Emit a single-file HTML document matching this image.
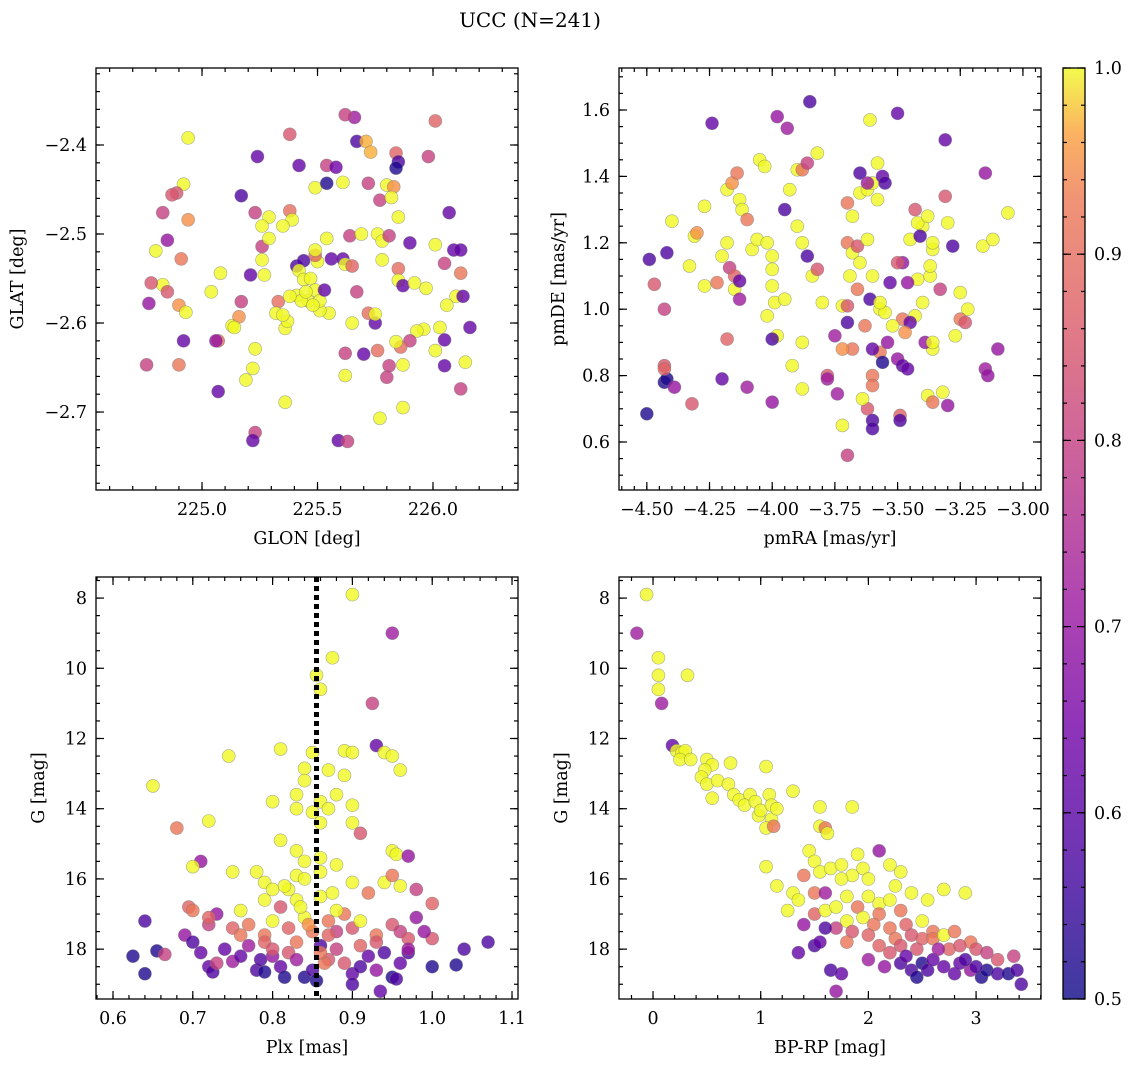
<!DOCTYPE html>
<html><head><meta charset="utf-8"><style>
html,body{margin:0;padding:0;background:#fff;}
svg{display:block;font-family:"DejaVu Serif","Liberation Serif",serif;}
</style></head><body>
<svg id="fig" width="1136" height="1067" viewBox="0 0 1136 1067" xmlns="http://www.w3.org/2000/svg">
<defs>
<linearGradient id="plasma" x1="0" y1="1" x2="0" y2="0">
<stop offset="0" stop-color="#0d0887"/><stop offset="0.14" stop-color="#46039f"/><stop offset="0.29" stop-color="#7201a8"/><stop offset="0.43" stop-color="#9c179e"/><stop offset="0.57" stop-color="#bd3786"/><stop offset="0.71" stop-color="#d8576b"/><stop offset="0.86" stop-color="#ed7953"/><stop offset="0.93" stop-color="#fb9f3a"/><stop offset="1" stop-color="#f0f921"/>
</linearGradient>
</defs>
<text x="530" y="27" font-size="20" text-anchor="middle">UCC (N=241)</text>
</svg>
<script>
// ---- Panel 1: GLON vs GLAT ----
const p1 = [[224.94,-2.392,1],[225.66,-2.369,.72],[225.62,-2.366,.8],[226.01,-2.373,.88],[225.38,-2.388,.85],[225.67,-2.396,.58],[225.71,-2.396,.97],[225.24,-2.413,.62],[225.42,-2.423,.62],[225.54,-2.423,.8],[225.58,-2.425,.64],[225.73,-2.408,.97],[225.84,-2.409,.88],[225.85,-2.419,.58],[225.84,-2.426,.52],[225.98,-2.413,.8],
[224.92,-2.444,1],[224.89,-2.454,.85],[224.87,-2.456,.85],[224.83,-2.476,.8],[224.94,-2.484,.95],[225.17,-2.457,.58],[225.23,-2.476,.8],[225.29,-2.481,1],[225.38,-2.474,.9],[225.39,-2.484,1],[225.49,-2.448,1],[225.54,-2.443,.52],[225.61,-2.442,1],[225.72,-2.443,.8],[225.80,-2.445,1],[225.83,-2.447,.95],[225.77,-2.462,.8],[225.82,-2.459,1],[225.85,-2.481,1],[226.07,-2.476,.62],
[224.85,-2.507,.7],[224.80,-2.519,1],[224.91,-2.528,.92],[224.83,-2.557,1],[224.85,-2.565,.85],[224.78,-2.555,.85],[224.77,-2.578,.7],[224.90,-2.580,.95],[224.93,-2.588,1],[224.76,-2.647,.8],[224.92,-2.620,.62],[224.90,-2.647,.92],[225.04,-2.565,1],[225.08,-2.544,1],[225.13,-2.603,1],[225.16,-2.593,.95],[225.14,-2.605,1],[225.07,-2.620,.9],[225.06,-2.620,.7],[225.17,-2.576,.8],[225.21,-2.546,.62],[225.27,-2.546,1],[225.26,-2.514,.8],[225.26,-2.491,1],[225.29,-2.505,1],[225.35,-2.491,1],[225.33,-2.576,.9],[225.32,-2.589,1],[225.26,-2.529,1],[225.36,-2.606,1],[225.37,-2.598,1],[225.41,-2.536,.58],[225.44,-2.530,.58],[225.42,-2.541,1],[225.44,-2.551,1],[225.47,-2.550,1],[225.50,-2.531,1],[225.49,-2.524,.88],[225.49,-2.518,1],[225.54,-2.505,1],[225.56,-2.528,.62],[225.61,-2.528,.62],[225.62,-2.534,1],[225.64,-2.502,.8],[225.65,-2.536,.88],[225.69,-2.500,1],[225.76,-2.500,1],[225.78,-2.508,1],[225.81,-2.502,.8],[225.90,-2.510,.62],[225.78,-2.529,1],[225.85,-2.539,.9],[225.85,-2.552,1],[225.87,-2.558,.62],[225.92,-2.555,1],[225.97,-2.561,1],[226.01,-2.512,1],[226.05,-2.533,.8],[226.09,-2.518,.62],[226.12,-2.518,.62],[226.12,-2.544,.92],[226.10,-2.570,1],[226.13,-2.570,.62],[226.06,-2.580,1],[226.16,-2.605,.62],[226.03,-2.605,1],[226.01,-2.631,1],[226.05,-2.619,.62],[226.14,-2.644,1],[226.12,-2.674,.8],[226.05,-2.648,.62],[225.96,-2.607,1],[225.93,-2.609,1],[225.90,-2.620,.8],[225.86,-2.627,.9],[225.87,-2.647,1],[225.84,-2.621,1],[225.81,-2.648,.8],[225.80,-2.661,.8],[225.76,-2.631,.9],[225.75,-2.600,.62],[225.72,-2.589,.9],[225.75,-2.590,1],[225.70,-2.635,.62],[225.65,-2.600,1],[225.62,-2.659,1],[225.62,-2.634,.8],[225.55,-2.589,1],[225.51,-2.586,1],[225.46,-2.575,1],[225.41,-2.569,1],[225.43,-2.575,1],[225.38,-2.570,1],[225.35,-2.591,1],[225.49,-2.563,1],[225.51,-2.575,1],[225.48,-2.580,1],[225.53,-2.563,.62],[225.23,-2.629,1],[225.19,-2.664,1],[225.22,-2.651,1],[225.36,-2.689,1],[225.23,-2.723,.8],[225.22,-2.732,.62],[225.07,-2.677,.62],[225.59,-2.732,.62],[225.63,-2.733,.8],[225.77,-2.707,1],[225.87,-2.695,1],[225.67,-2.565,.8],[225.45,-2.565,1]];
// ---- Panel 2: pmRA vs pmDE ----
const p2 = [[-4.5,0.685,.52],[-4.49,1.15,.58],[-4.42,1.17,.58],[-4.43,0.78,.52],[-4.42,0.79,.52],[-4.43,0.83,.85],[-4.43,0.82,.88],[-4.39,0.765,.7],[-4.43,1.0,.8],[-4.47,1.075,.85],[-4.4,1.265,1],[-4.33,1.13,1],[-4.31,1.22,1],[-4.3,1.23,.95],[-4.27,1.31,1],[-4.27,1.07,1],[-4.32,0.715,.85],[-4.24,1.56,.62],[-4.22,1.08,.92],[-4.2,1.16,1],[-4.18,1.2,1],[-4.17,1.125,.8],[-4.18,1.36,1],[-4.16,1.38,.95],[-4.14,1.41,.92],[-4.13,1.33,1],[-4.12,1.3,1],[-4.1,1.27,.92],[-4.15,1.06,1],[-4.15,1.1,.88],[-4.13,1.085,.62],[-4.13,1.03,.72],[-4.18,0.91,.88],[-4.2,0.79,.62],[-4.1,0.765,.72],[-4.08,1.18,1],[-4.06,1.21,1],[-4.05,1.45,1],[-4.03,1.43,1],[-4.02,1.2,1],[-4.0,1.16,1],[-4.0,1.12,1],[-4.0,1.07,1],[-3.99,1.02,1],[-4.02,0.98,1],[-3.98,0.92,1],[-4.0,0.91,.58],[-3.95,1.03,1],[-3.95,1.3,.58],[-3.93,1.36,1],[-3.9,1.42,1],[-3.88,1.42,.92],[-3.86,1.44,.8],[-3.82,1.47,1],[-3.98,1.58,.7],[-3.94,1.545,.72],[-3.85,1.625,.58],[-4.0,0.72,.7],[-3.9,1.25,1],[-3.88,1.2,1],[-3.86,1.16,.58],[-3.84,1.1,1],[-3.82,1.12,.85],[-3.8,1.02,1],[-3.88,0.9,1],[-3.92,0.83,1],[-3.88,0.76,1],[-3.78,0.8,.85],[-3.78,0.79,.72],[-3.75,0.92,.72],[-3.72,1.01,1],[-3.7,1.01,.85],[-3.7,1.2,.92],[-3.68,1.17,1],[-3.66,1.19,.85],[-3.62,1.21,1],[-3.7,1.32,.92],[-3.68,1.28,1],[-3.65,1.35,1],[-3.62,1.36,1],[-3.6,1.38,1],[-3.58,1.33,1],[-3.56,1.4,.62],[-3.58,1.44,1],[-3.61,1.57,1],[-3.65,1.41,.58],[-3.62,1.38,.72],[-3.55,1.38,.58],[-3.69,1.1,1],[-3.65,1.14,1],[-3.61,1.03,.58],[-3.57,1.0,1],[-3.6,1.1,1],[-3.66,1.06,.92],[-3.7,0.96,.58],[-3.68,0.88,.92],[-3.63,0.95,.92],[-3.55,0.99,1],[-3.57,0.87,.92],[-3.6,0.88,.62],[-3.6,0.8,.92],[-3.6,0.77,.92],[-3.62,0.7,.85],[-3.64,0.73,1],[-3.72,0.65,1],[-3.74,0.745,.72],[-3.72,0.88,.95],[-3.7,0.56,.8],[-3.6,0.665,.58],[-3.6,0.64,.58],[-3.56,0.84,.52],[-3.5,0.85,.7],[-3.48,0.83,.62],[-3.49,0.68,.88],[-3.49,0.665,.58],[-3.5,1.59,.62],[-3.45,1.21,1],[-3.43,1.3,.85],[-3.4,1.25,1],[-3.42,1.26,1],[-3.41,1.22,.58],[-3.38,1.28,1],[-3.36,1.18,1],[-3.36,1.2,1],[-3.3,1.26,1],[-3.28,1.19,.58],[-3.31,1.34,.85],[-3.31,1.51,.62],[-3.48,1.14,.7],[-3.5,1.14,.85],[-3.42,1.09,1],[-3.46,1.08,.7],[-3.4,1.02,1],[-3.37,1.1,1],[-3.37,1.13,1],[-3.33,1.06,.8],[-3.25,1.05,1],[-3.22,1.0,1],[-3.25,0.97,.92],[-3.23,0.96,.85],[-3.27,0.92,1],[-3.36,0.88,1],[-3.39,0.9,.7],[-3.36,0.9,1],[-3.38,0.74,1],[-3.32,0.75,1],[-3.36,0.72,.92],[-3.3,0.71,.7],[-3.46,0.82,.62],[-3.43,0.98,1],[-3.48,0.97,.92],[-3.45,0.96,.62],[-3.15,1.41,.7],[-3.16,1.19,1],[-3.12,1.21,1],[-3.06,1.29,1],[-3.15,0.82,.72],[-3.1,0.88,.7],[-3.14,0.8,.7],[-3.47,0.93,.95],[-3.52,0.95,1],[-3.54,0.9,.7],[-3.57,1.02,1],[-3.53,1.08,.62]];
// ---- Panel 3: Plx vs G ----
const p3 = [[0.65,13.35,1],[0.68,14.55,.92],[0.72,14.35,1],[0.71,15.5,.7],[0.70,15.65,1],[0.745,12.5,1],[0.81,12.3,1],[0.90,7.9,1],[0.95,9.0,.72],[0.875,9.7,1],[0.855,10.2,1],[0.86,10.6,1],[0.925,11.0,.8],[0.93,12.2,.62],[0.94,12.4,1],[0.95,12.5,1],[0.96,12.9,1],[0.89,12.35,1],[0.9,12.4,1],[0.85,12.4,1],[0.87,12.9,1],[0.84,12.85,1],[0.89,13.05,1],[0.88,13.6,1],[0.84,13.2,1],[0.86,13.8,1],[0.85,14.1,1],[0.83,14.0,1],[0.87,14.0,1],[0.9,13.9,1],[0.83,13.6,1],[0.8,13.8,1],[0.9,14.4,1],[0.91,14.7,.85],[0.86,14.4,1],[0.81,14.9,1],[0.83,15.2,1],[0.84,15.5,1],[0.86,15.4,1],[0.86,15.8,1],[0.88,15.6,1],[0.95,15.2,1],[0.955,15.3,1],[0.97,15.35,.7],[0.78,15.8,1],[0.75,15.8,1],[0.79,16.1,1],[0.8,16.3,1],[0.82,16.3,1],[0.83,15.9,1],[0.84,16.0,1],[0.9,16.1,1],[0.92,16.4,.92],[0.94,16.1,1],[0.95,15.9,.92],[0.96,16.2,1],[0.98,16.3,.8],[0.695,16.8,.88],[0.7,16.9,.92],[0.73,17.0,.7],[0.72,17.3,.8],[0.75,17.4,.88],[0.77,17.3,.92],[0.79,17.6,.92],[0.8,17.2,1],[0.82,17.4,.88],[0.84,17.1,1],[0.85,17.5,.92],[0.87,17.2,.92],[0.88,17.5,.8],[0.89,17.0,.92],[0.9,17.4,.85],[0.91,17.2,1],[0.93,17.6,.92],[0.95,17.3,.85],[0.96,17.5,.8],[0.97,17.7,.85],[1.0,16.7,.88],[1.0,17.7,.85],[0.98,17.1,.7],[0.76,16.9,1],[0.79,16.6,1],[0.81,16.8,.85],[0.83,16.6,1],[0.86,16.5,1],[0.88,16.9,1],
[0.625,18.2,.52],[0.64,18.7,.52],[0.64,17.2,.58],[0.655,18.05,.52],[0.665,18.15,.8],[0.69,17.6,.7],[0.7,17.8,.58],[0.71,18.1,.62],[0.72,18.5,.62],[0.725,18.65,.58],[0.73,18.4,.8],[0.74,18.0,.62],[0.75,18.35,.72],[0.76,18.2,.62],[0.77,17.9,.72],[0.78,18.6,.58],[0.785,18.3,.58],[0.79,18.65,.52],[0.8,18.2,.7],[0.81,18.5,.62],[0.815,18.8,.52],[0.82,18.1,.85],[0.83,18.3,.72],[0.84,18.8,.52],[0.85,18.6,.58],[0.855,18.9,.52],[0.86,17.9,.58],[0.87,18.3,.85],[0.88,18.0,.8],[0.89,18.4,.85],[0.9,18.7,.62],[0.9,19.0,.58],[0.91,18.5,.58],[0.92,18.2,.62],[0.93,18.6,.7],[0.935,19.2,.62],[0.94,18.1,.58],[0.95,18.8,.52],[0.96,18.4,.62],[0.97,18.1,.58],[1.0,18.5,.52],[1.03,18.45,.52],[1.04,18.0,.58],[1.07,17.8,.58],[0.955,18.85,.58],[0.865,18.4,.92],[0.83,17.8,.92],[0.87,17.6,.88],[0.91,17.9,.88],[0.93,17.8,.85],[0.86,18.1,.92],[0.79,17.8,.88],[0.76,17.6,.92],[0.8,18.0,.85],[0.97,18.0,.72],[0.99,17.5,.7],[0.72,17.1,.88],[0.845,17.3,.95],[0.835,16.8,1],[0.875,16.4,1],[0.815,16.2,1]];
const plxMean = [0.855];
// ---- Panel 4: BP-RP vs G ----
const p4 = [[-0.06,7.9,1],[-0.15,9.0,.72],[0.05,9.7,1],[0.05,10.2,1],[0.05,10.6,1],[0.32,10.2,1],[0.08,11.0,.72],[0.18,12.2,.62],[0.22,12.35,1],[0.27,12.4,1],[0.3,12.35,1],[0.25,12.6,1],[0.35,12.6,1],[0.5,12.6,1],[0.55,12.75,1],[0.48,12.9,1],[0.45,13.1,1],[0.5,13.3,1],[0.6,13.2,1],[0.55,13.7,1],[0.72,12.7,1],[0.7,13.3,1],[0.75,13.6,1],[0.8,13.75,1],[0.9,13.6,1],[0.85,13.9,1],[0.95,13.8,1],[1.05,12.8,1],[0.98,14.2,1],[1.0,14.05,1],[1.1,14.3,1],[1.05,14.55,1],[1.08,13.6,1],[1.1,13.9,1],[1.15,14.0,1],[1.12,14.5,.92],[1.3,13.5,1],[1.55,13.95,1],[1.85,13.95,1],[1.55,14.5,1],[1.6,14.55,.92],[1.62,14.7,1],[1.05,15.65,1],[1.45,15.2,1],[1.5,15.5,1],[1.4,15.9,.92],[1.55,15.8,1],[1.65,15.7,1],[1.75,15.6,1],[1.9,15.3,1],[2.1,15.2,.7],[1.95,15.7,1],[2.2,15.6,1],[1.85,15.9,1],[1.75,16.0,1],[2.0,16.0,1],[2.3,15.8,1],[2.25,16.2,1],[2.4,16.4,1],[2.55,16.6,1],[2.7,16.3,1],[2.9,16.4,1],[1.15,16.2,1],[1.25,16.9,1],[1.3,16.4,1],[1.35,16.6,1],[1.5,16.4,.92],[1.6,16.4,.72],[1.5,17.0,.88],[1.6,16.9,1],[1.7,16.8,1],[1.8,16.5,1],[1.9,16.8,.92],[2.0,16.5,1],[2.1,16.7,1],[2.2,16.6,1],[2.3,16.9,.92],[2.1,17.0,.92],[1.95,17.1,1],[1.8,17.2,1],[2.05,17.3,.92],[2.2,17.4,.92],[2.35,17.3,.88],[2.5,17.2,1],[2.6,17.5,.92],[2.5,17.7,.88],[2.4,17.6,.85],[2.25,17.7,.92],[2.0,17.6,.88],[1.85,17.5,.85],[1.7,17.4,.8],[1.8,17.8,.92],[2.1,17.9,.88],[2.3,17.9,.85],[2.45,18.0,.85],[2.6,17.7,.92],[2.7,17.6,1],[2.8,17.5,.92],[2.95,17.8,.92],[3.0,18.0,.85],[3.1,18.1,.8],[3.2,18.3,.85],[3.35,18.2,.8],[2.75,18.0,.88],[2.85,17.9,.85],[1.4,17.3,.7],[1.6,17.4,.58],[1.5,17.9,.58],[1.55,17.8,.62],[1.35,18.1,.62],[1.65,18.6,.58],[1.75,18.7,.62],[1.7,19.2,.7],[2.0,18.3,.72],[2.15,18.5,.7],[2.3,18.4,.58],[2.4,18.6,.58],[2.45,18.8,.52],[2.5,18.4,.52],[2.55,18.6,.58],[2.6,18.3,.62],[2.7,18.5,.62],[2.8,18.7,.62],[2.85,18.4,.62],[2.95,18.6,.7],[3.05,18.8,.52],[3.1,18.6,.52],[3.2,18.7,.58],[3.3,18.7,.52],[3.38,18.6,.58],[3.42,19.0,.58],[2.35,18.2,.62],[2.2,18.1,.85],[2.65,18.0,.72],[2.9,18.3,.58],[3.0,18.5,.58]];
const p1XTicks = [225.0,225.5,226.0];
const p1YTicks = [-2.4,-2.5,-2.6,-2.7];
const p2XTicks = [-4.5,-4.25,-4.0,-3.75,-3.5,-3.25,-3.0];
const p2YTicks = [0.6,0.8,1.0,1.2,1.4,1.6];
const p3XTicks = [0.6,0.7,0.8,0.9,1.0,1.1];
const gTicks = [8,10,12,14,16,18];
const p4XTicks = [0,1,2,3];
const cbTicks = [0.5,0.6,0.7,0.8,0.9,1.0];

const NS = "http://www.w3.org/2000/svg";
const svg = document.getElementById('fig');
const FS = 17.5;
function el(tag, attrs, parent) {
  const e = document.createElementNS(NS, tag);
  for (const k in attrs) e.setAttribute(k, attrs[k]);
  (parent || svg).appendChild(e);
  return e;
}
const stops = [[0,[13,8,135]],[0.14,[70,3,159]],[0.29,[114,1,168]],[0.43,[156,23,158]],[0.57,[189,55,134]],[0.71,[216,87,107]],[0.86,[237,121,83]],[0.93,[251,159,58]],[1,[240,249,33]]];
function plasma(v) {
  let t = Math.max(0, Math.min(1, (v - 0.5) / 0.5));
  for (let i = 1; i < stops.length; i++) {
    if (t <= stops[i][0]) {
      const a = stops[i-1], b = stops[i], f = (t - a[0]) / (b[0] - a[0]);
      const c = a[1].map((x, j) => Math.round(x + (b[1][j] - x) * f));
      return `rgb(${c[0]},${c[1]},${c[2]})`;
    }
  }
  return 'rgb(240,249,33)';
}
function fmt(v, d) { const s = Math.abs(v).toFixed(d); return (v < 0 ? '\u2212' : '') + s; }

function panel(name, box, xlim, ylim, xTicks, yTicks, xMinor, yMinor, xDec, yDec, xlabel, ylabel, pts) {
  const [L, T, R, B] = box;
  const sx = v => L + (v - xlim[0]) / (xlim[1] - xlim[0]) * (R - L);
  const sy = v => T + (ylim[1] - v) / (ylim[1] - ylim[0]) * (B - T);
  const g = el('g', {});
  
  
  const cid = name + '-clip';
  const cp = el('clipPath', {id: cid}, g);
  el('rect', {x: L, y: T, width: R - L, height: B - T}, cp);
  const pg = el('g', {'clip-path': `url(#${cid})`}, g);
  
  
  pts.forEach(p => {
    const c = el('circle', {cx: sx(p[0]), cy: sy(p[1]), r: 6.5, fill: plasma(p[2]), 'fill-opacity': 0.8, stroke: '#777', 'stroke-opacity': 0.6, 'stroke-width': 0.6}, pg);
    
    
  });
  const ax = el('g', {stroke: '#000', 'stroke-width': 1.2}, g);
  const x0 = Math.ceil(Math.min(...xlim) / xMinor - 1e-6), x1 = Math.floor(Math.max(...xlim) / xMinor + 1e-6);
  for (let i = x0; i <= x1; i++) { const X = sx(i * xMinor);
    el('line', {x1: X, x2: X, y1: B, y2: B - 4}, ax); el('line', {x1: X, x2: X, y1: T, y2: T + 4}, ax); }
  const y0 = Math.ceil(Math.min(...ylim) / yMinor - 1e-6), y1 = Math.floor(Math.max(...ylim) / yMinor + 1e-6);
  for (let i = y0; i <= y1; i++) { const Y = sy(i * yMinor);
    el('line', {x1: L, x2: L + 4, y1: Y, y2: Y}, ax); el('line', {x1: R, x2: R - 4, y1: Y, y2: Y}, ax); }
  xTicks.forEach(v => { const X = sx(v);
    el('line', {x1: X, x2: X, y1: B, y2: B - 8}, ax); el('line', {x1: X, x2: X, y1: T, y2: T + 8}, ax);
    const t = el('text', {x: X, y: B + 25, 'font-size': FS, 'text-anchor': 'middle'}, g);
    t.textContent = fmt(v, xDec);
    
    
  });
  yTicks.forEach(v => { const Y = sy(v);
    el('line', {x1: L, x2: L + 8, y1: Y, y2: Y}, ax); el('line', {x1: R, x2: R - 8, y1: Y, y2: Y}, ax);
    const t = el('text', {x: L - 9, y: Y + 6, 'font-size': FS, 'text-anchor': 'end'}, g);
    t.textContent = fmt(v, yDec);
    
    
  });
  el('rect', {x: L, y: T, width: R - L, height: B - T, fill: 'none', stroke: '#000', 'stroke-width': 1.3}, g);
  const xl = el('text', {x: (L + R) / 2, y: B + 54, 'font-size': FS, 'text-anchor': 'middle'}, g);
  xl.textContent = xlabel;
  
  
  const lx = ylabel.x, yl = el('text', {x: lx, y: (T + B) / 2, 'font-size': FS, 'text-anchor': 'middle', transform: `rotate(-90 ${lx} ${(T + B) / 2})`}, g);
  yl.textContent = ylabel.t;
  
  
  return {sx, sy};
}

panel('panel-glon-glat', [96,68,518,490], [224.541,226.368], [-2.7876,-2.3135], p1XTicks, p1YTicks, 0.1, 0.02, 1, 1, 'GLON [deg]', {x: 23, t: 'GLAT [deg]'}, p1);
panel('panel-pm', [619,68,1041,490], [-4.611,-2.928], [0.4554,1.7265], p2XTicks, p2YTicks, 0.05, 0.05, 2, 1, 'pmRA [mas/yr]', {x: 564, t: 'pmDE [mas/yr]'}, p2);
panel('panel-plx-g', [96,577,518,999], [0.5787,1.1075], [-19.42,-7.4], p3XTicks, [], 0.02, 0.5, 1, 0, 'Plx [mas]', {x: 44, t: 'G [mag]'}, []);
panel('panel-cmd', [619,577,1041,999], [-0.316,3.603], [-19.42,-7.4], p4XTicks, [], 0.2, 0.5, 0, 0, 'BP-RP [mag]', {x: 567, t: 'G [mag]'}, []);

function magPanel(name, box, xlim, pts, withLine) {
  const [L, T, R, B] = box;
  const sx = v => L + (v - xlim[0]) / (xlim[1] - xlim[0]) * (R - L);
  const sy = v => T + (v - 7.4) / (19.42 - 7.4) * (B - T);
  const g = el('g', {});
  
  
  const cid = name + '-clip2';
  const cp = el('clipPath', {id: cid}, g);
  el('rect', {x: L, y: T, width: R - L, height: B - T}, cp);
  const pg = el('g', {'clip-path': `url(#${cid})`}, g);
  pts.forEach(p => {
    const c = el('circle', {cx: sx(p[0]), cy: sy(p[1]), r: 6.5, fill: plasma(p[2]), 'fill-opacity': 0.8, stroke: '#777', 'stroke-opacity': 0.6, 'stroke-width': 0.6}, pg);
    
    
  });
  if (withLine) {
    const X = sx(plxMean[0]);
    const ln = el('line', {x1: X, x2: X, y1: T, y2: B, stroke: '#000', 'stroke-width': 5, 'stroke-dasharray': '5 4'}, pg);
    
    
  }
  gTicks.forEach(v => {
    const Y = sy(v);
    const t = el('text', {x: L - 9, y: Y + 6, 'font-size': FS, 'text-anchor': 'end'}, g);
    t.textContent = String(v);
    
    
    el('line', {x1: L, x2: L + 8, y1: Y, y2: Y, stroke: '#000', 'stroke-width': 1.2}, g);
    el('line', {x1: R, x2: R - 8, y1: Y, y2: Y, stroke: '#000', 'stroke-width': 1.2}, g);
  });
}
magPanel('panel-plx-g', [96,577,518,999], [0.5787,1.1075], p3, true);
magPanel('panel-cmd', [619,577,1041,999], [-0.316,3.603], p4, false);

const cb = el('g', {});


el('rect', {x: 1063, y: 68, width: 22, height: 931, fill: 'url(#plasma)', 'fill-opacity': 0.8}, cb);
el('rect', {x: 1063, y: 68, width: 22, height: 931, fill: 'none', stroke: '#000', 'stroke-width': 1.3}, cb);
const cy = v => 999 - (v - 0.5) / 0.5 * 931;
for (let i = 25; i <= 50; i++) { const Y = cy(i * 0.02);
  el('line', {x1: 1085, x2: 1081, y1: Y, y2: Y, stroke: '#000', 'stroke-width': 1.2}, cb); el('line', {x1: 1063, x2: 1067, y1: Y, y2: Y, stroke: '#000', 'stroke-width': 1.2}, cb); }
cbTicks.forEach(v => { const Y = cy(v);
  el('line', {x1: 1085, x2: 1077, y1: Y, y2: Y, stroke: '#000', 'stroke-width': 1.2}, cb);
  el('line', {x1: 1063, x2: 1071, y1: Y, y2: Y, stroke: '#000', 'stroke-width': 1.2}, cb);
  const t = el('text', {x: 1094, y: Y + 6, 'font-size': FS}, cb);
  t.textContent = v.toFixed(1);
  
  
});
</script>
</body></html>
